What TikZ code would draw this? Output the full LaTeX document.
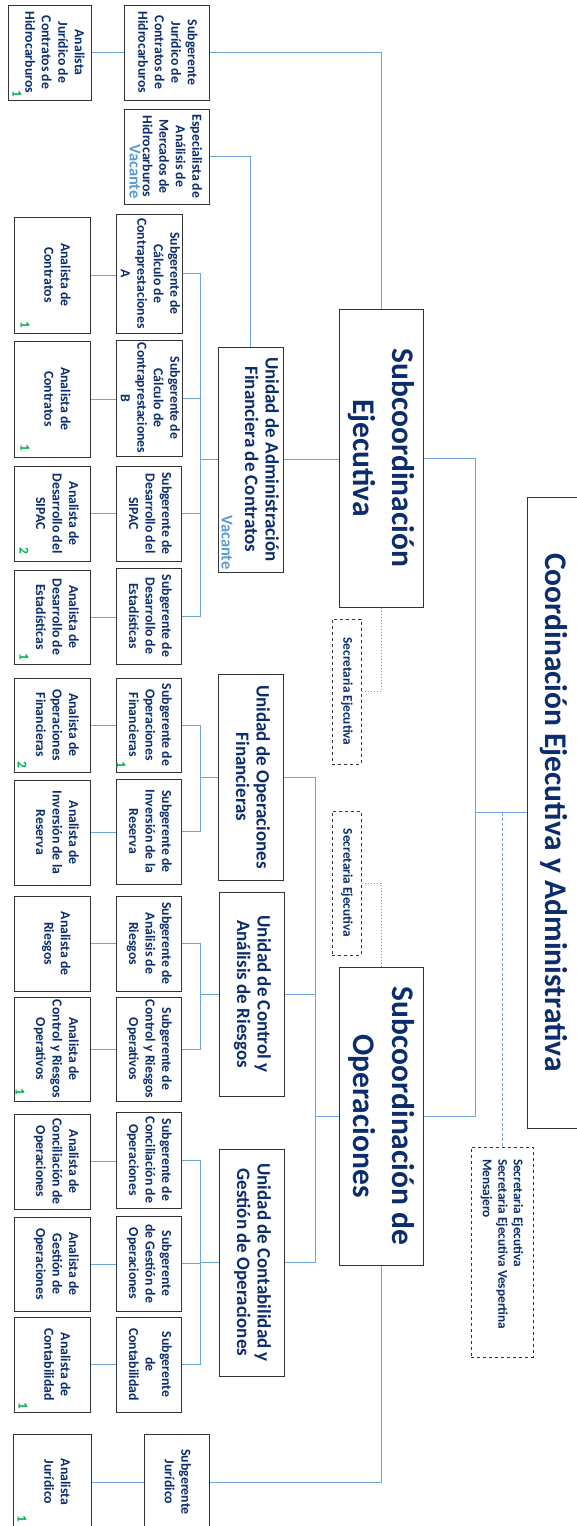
\documentclass[tikz,border=0pt]{standalone}
\usepackage{fontspec}
\setmainfont{Carlito}
\usetikzlibrary{calc}
\definecolor{navy}{HTML}{0B2D6E}
\definecolor{lnk}{HTML}{6FA3DA}
\definecolor{vacc}{HTML}{5B9BD5}
\definecolor{grn}{HTML}{00B050}
\newcommand\rt[1]{\rotatebox{-90}{\begin{tabular}{@{}c@{}}#1\end{tabular}}}
\newcommand\rta[1]{\hspace{8pt}\rotatebox{-90}{\begin{tabular}{@{}c@{}}#1\end{tabular}}}
\begin{document}
\begin{tikzpicture}[x=1pt,y=-1pt,
  box/.style={draw=black!80, line width=1pt, fill=white, inner sep=0pt, text=navy},
  small/.style={box, font=\bfseries\fontsize{13.8}{16.5}\selectfont},
  unit/.style={box, font=\bfseries\fontsize{19}{20.5}\selectfont},
  big/.style={box, font=\bfseries\fontsize{31.5}{39}\selectfont},
  sec/.style={draw=black!80, dashed, line width=1pt, fill=white, inner sep=0pt, text=navy, font=\bfseries\fontsize{13.3}{15.5}\selectfont},
  lk/.style={draw=lnk, line width=0.9pt},
  dotl/.style={lk, dash pattern=on 1.5pt off 1.5pt},
  dashl/.style={lk, dash pattern=on 3pt off 2pt},
  num/.style={text=grn, font=\bfseries\fontsize{13.5}{13.5}\selectfont, inner sep=0pt},
  vacs/.style={text=vacc, font=\bfseries\fontsize{16.5}{17}\selectfont, inner sep=0pt},
  sw/.style={small, minimum width=65},
  aw/.style={small, minimum width=76},
]
\useasboundingbox (0,0) rectangle (576,1526);

% ---- top level
\node[big, minimum width=53, minimum height=631] (coord) at (553.5,812.5) {\rt{Coordinación Ejecutiva y Administrativa}};
\node[big, minimum width=84, minimum height=298] (sej) at (381,458) {\rt{Subcoordinación\\Ejecutiva}};
\node[big, minimum width=84, minimum height=298] (sop) at (381,1116) {\rt{Subcoordinación de\\Operaciones}};
\node[sec, minimum width=29, minimum height=145] (sec1) at (346.5,691.5) {\rt{Secretaria Ejecutiva}};
\node[sec, minimum width=29, minimum height=144] (sec2) at (346.5,883) {\rt{Secretaria Ejecutiva}};
\node[sec, minimum width=62, minimum height=210] (sec3) at (502,1252) {\rotatebox{-90}{\parbox{186pt}{\raggedright Secretaria Ejecutiva\\Secretaria Ejecutiva Vespertina\\Mensajero}}};

% ---- Subcoordinación Ejecutiva branch
\node[small, minimum width=83, minimum height=95] (ajc) at (49.5,52.5) {\rta{Analista\\Jurídico de\\Contratos de\\Hidrocarburos}};
\node[small, minimum width=85, minimum height=95] (sjc) at (166.5,52.5) {\rt{Subgerente\\Jurídico de\\Contratos de\\Hidrocarburos}};
\node[small, minimum width=85, minimum height=95] (esp) at (166.5,156.5) {\hspace{9pt}\rt{Especialista de\\Análisis de\\Mercados de\\Hidrocarburos}};
\node[vacs] (v1) at (135,171.5) {\rotatebox{-90}{Vacante}};
\node[unit, minimum width=65, minimum height=225] (uafc) at (250.5,459.5) {\hspace{18pt}\rt{Unidad de Administración\\Financiera de Contratos}};
\node[vacs] (v2) at (227,542.5) {\rotatebox{-90}{Vacante}};

\node[sw, minimum height=119] (sA) at (149,273.5) {\rt{Subgerente de\\Cálculo de\\Contraprestaciones\\A}};
\node[sw, minimum height=116] (sB) at (149,398) {\rt{Subgerente de\\Cálculo de\\Contraprestaciones\\B}};
\node[sw, minimum height=95] (sS) at (149,513.5) {\rt{Subgerente de\\Desarrollo del\\SIPAC}};
\node[sw, minimum height=96] (sE) at (149,616) {\rt{Subgerente de\\Desarrollo de\\Estadísticas}};
\node[aw, minimum height=116] (aA) at (52,275) {\rta{Analista de\\Contratos}};
\node[aw, minimum height=116] (aB) at (52,399) {\rta{Analista de\\Contratos}};
\node[aw, minimum height=95] (aS) at (52,513.5) {\rta{Analista de\\Desarrollo del\\SIPAC}};
\node[aw, minimum height=94] (aE) at (52,617) {\rta{Analista de\\Desarrollo de\\Estadísticas}};

% ---- Subcoordinación de Operaciones branch
\node[unit, minimum width=65, minimum height=206] (uof) at (250.5,777) {\rt{Unidad de Operaciones\\Financieras}};
\node[unit, minimum width=65, minimum height=204] (ucar) at (251.5,994) {\rt{Unidad de Control y\\Análisis de Riesgos}};
\node[unit, minimum width=65, minimum height=227] (ucgo) at (251.5,1262.5) {\rt{Unidad de Contabilidad y\\Gestión de Operaciones}};

\node[sw, minimum height=94] (sOF) at (149,725) {\rt{Subgerente de\\Operaciones\\Financieras}};
\node[sw, minimum height=105] (sIR) at (149,831.5) {\rt{Subgerente de\\Inversión de la\\Reserva}};
\node[sw, minimum height=95] (sAR) at (149,943.5) {\rt{Subgerente de\\Análisis de\\Riesgos}};
\node[sw, minimum height=104] (sCR) at (149,1049) {\rt{Subgerente de\\Control y Riesgos\\Operativos}};
\node[sw, minimum height=96] (sCO) at (149,1160) {\rt{Subgerente de\\Conciliación de\\Operaciones}};
\node[sw, minimum height=95] (sGO) at (149,1263.5) {\rt{Subgerente\\de Gestión de\\Operaciones}};
\node[sw, minimum height=95] (sCt) at (149,1364.5) {\rt{Subgerente\\de\\Contabilidad}};

\node[aw, minimum height=94] (aOF) at (52,725) {\rta{Analista de\\Operaciones\\Financieras}};
\node[aw, minimum height=105] (aIR) at (52,832.5) {\rta{Analista de\\Inversión de la\\Reserva}};
\node[aw, minimum height=95] (aAR) at (52,943.5) {\rta{Analista de\\Riesgos}};
\node[aw, minimum height=104] (aCR) at (52,1049) {\rta{Analista de\\Control y Riesgos\\Operativos}};
\node[aw, minimum height=95] (aCO) at (52,1161.5) {\rta{Analista de\\Conciliación de\\Operaciones}};
\node[aw, minimum height=94] (aGO) at (52,1264) {\rta{Analista de\\Gestión de\\Operaciones}};
\node[aw, minimum height=95] (aCt) at (52,1364.5) {\rta{Analista de\\Contabilidad}};

\node[sw, minimum height=96] (sJ) at (176.5,1482) {\rt{Subgerente\\Jurídico}};
\node[small, minimum width=78, minimum height=96] (aJ) at (52,1482) {\rta{Analista\\Jurídico}};

% ---- green counts
\node[num] (n1) at (17,94) {\rotatebox{-90}{1}};
\node[num] (n2) at (25,325) {\rotatebox{-90}{1}};
\node[num] (n3) at (25,448) {\rotatebox{-90}{1}};
\node[num] (n4) at (24,551) {\rotatebox{-90}{2}};
\node[num] (n5) at (24,657) {\rotatebox{-90}{1}};
\node[num] (n6) at (121,765) {\rotatebox{-90}{1}};
\node[num] (n7) at (22,765) {\rotatebox{-90}{2}};
\node[num] (n8) at (20,1092) {\rotatebox{-90}{1}};
\node[num] (n9) at (23,1406) {\rotatebox{-90}{1}};
\node[num] (n10) at (22,1519) {\rotatebox{-90}{1}};

% ---- connectors
\coordinate (jm) at (475,0);
\coordinate (jo) at (315,0);
\coordinate (ja) at (200,0);

\draw[lk] (sej.north) |- (sjc.east);
\draw[lk] (ajc.east) -- (sjc.west);
\draw[lk] (esp.east) -| (uafc.north);
\draw[lk] (uafc.east) -- (uafc.east -| sej.west);
\draw[lk] (sej.east) -- (sej.east -| jm) -- (sop.east -| jm) -- (sop.east);
\draw[lk] (coord.west) -- (coord.west -| jm);
\draw[dotl] (sej.south) |- (sec1.east);
\draw[dotl] (sec2.east) -| (sop.north);
\draw[dashl] (sec3.north |- coord.west) -- (sec3.north);

\draw[lk] (sop.west) -- (sop.west -| jo);
\draw[lk] (uof.east) -- (uof.east -| jo) -- (ucgo.east -| jo) -- (ucgo.east);
\draw[lk] (ucar.east) -- (ucar.east -| jo);
\draw[lk] (sop.south) |- (sJ.east);
\draw[lk] (aJ.east) -- (sJ.west);

% unidad admin bracket
\draw[lk] (sA.east) -- (sA.east -| ja) -- (sE.east -| ja) -- (sE.east);
\draw[lk] (sB.east) -- (sB.east -| ja);
\draw[lk] (sS.east) -- (sS.east -| ja);
\draw[lk] (uafc.west) -- (uafc.west -| ja);
% operaciones financieras bracket
\draw[lk] (sOF.east) -- (sOF.east -| ja) -- (sIR.east -| ja) -- (sIR.east);
\draw[lk] (uof.west) -- (uof.west -| ja);
% control bracket
\draw[lk] (sAR.east) -- (sAR.east -| ja) -- (sCR.east -| ja) -- (sCR.east);
\draw[lk] (ucar.west) -- (ucar.west -| ja);
% contabilidad bracket
\draw[lk] (sCO.east) -- (sCO.east -| ja) -- (sCt.east -| ja) -- (sCt.east);
\draw[lk] (sGO.east) -- (sGO.east -| ja);
\draw[lk] (ucgo.west) -- (ucgo.west -| ja);

% analista to subgerente
\draw[lk] (aA.east) -- (aA.east -| sA.west);
\draw[lk] (aB.east) -- (aB.east -| sB.west);
\draw[lk] (aS.east) -- (aS.east -| sS.west);
\draw[lk] (aE.east) -- (aE.east -| sE.west);
\draw[lk] (aOF.east) -- (aOF.east -| sOF.west);
\draw[lk] (aIR.east) -- (aIR.east -| sIR.west);
\draw[lk] (aAR.east) -- (aAR.east -| sAR.west);
\draw[lk] (aCR.east) -- (aCR.east -| sCR.west);
\draw[lk] (aCO.east) -- (aCO.east -| sCO.west);
\draw[lk] (aGO.east) -- (aGO.east -| sGO.west);
\draw[lk] (aCt.east) -- (aCt.east -| sCt.west);
\end{tikzpicture}
\end{document}
